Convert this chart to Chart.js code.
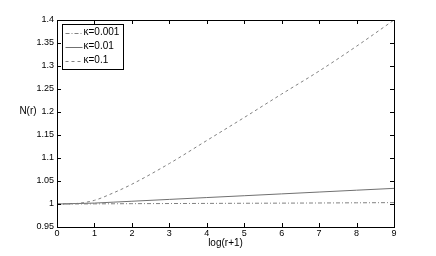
<!DOCTYPE html>
<html><head><meta charset="utf-8">
<script src="https://cdn.jsdelivr.net/npm/chart.js@4"></script>
<style>html,body{margin:0;padding:0;background:#fff}#c{display:block}</style>
</head><body>
<canvas id="c" width="436" height="256"></canvas>
<script>
const xValues = [0, 0.5, 1, 1.5, 2, 3, 4, 5, 6, 7, 8, 9];
const k0001 = [1.0, 1.0001, 1.0003, 1.0005, 1.0007, 1.001, 1.0013, 1.0016, 1.0019, 1.0022, 1.0026, 1.003];
const k001 = [1.0, 1.001, 1.002, 1.004, 1.006, 1.010, 1.014, 1.018, 1.022, 1.026, 1.030, 1.034];
const k01 = [1.0, 1.001, 1.008, 1.024, 1.043, 1.088, 1.138, 1.188, 1.239, 1.289, 1.343, 1.40];
const labels = ['κ=0.001', 'κ=0.01', 'κ=0.1'];
const xTicks = [0,1,2,3,4,5,6,7,8,9];
const yTicks = [0.95,1,1.05,1.1,1.15,1.2,1.25,1.3,1.35,1.4];
const xTitle = 'log(r+1)';
const yTitle = 'N(r)';

const FONT = '"Liberation Sans", Arial, sans-serif';
const pts = a => a.map((v,i)=>({x:xValues[i], y:v}));

const frame = {
  id:'frame',
  afterDraw(chart){
    const {ctx, chartArea:a, scales:{x,y}} = chart;
    ctx.save();
    ctx.strokeStyle='#000'; ctx.lineWidth=1;
    ctx.strokeRect(Math.round(a.left)+0.5, Math.round(a.top)+0.5, Math.round(a.right-a.left), Math.round(a.bottom-a.top));
    ctx.beginPath();
    const tl=4;
    xTicks.forEach(v=>{const px=Math.round(x.getPixelForValue(v))+0.5;
      ctx.moveTo(px,a.bottom); ctx.lineTo(px,a.bottom-tl);
      ctx.moveTo(px,a.top); ctx.lineTo(px,a.top+tl);});
    yTicks.forEach(v=>{const py=Math.round(y.getPixelForValue(v))+0.5;
      ctx.moveTo(a.left,py); ctx.lineTo(a.left+tl,py);
      ctx.moveTo(a.right,py); ctx.lineTo(a.right-tl,py);});
    ctx.stroke();
    // titles
    ctx.fillStyle='#000'; ctx.font='10px '+FONT;
    ctx.textAlign='center'; ctx.textBaseline='middle';
    ctx.fillText(xTitle, (a.left+a.right)/2, 243);
    ctx.fillText(yTitle, 28, 111);
    // legend
    const bx=Math.round(a.left)+5.5, by=Math.round(a.top)+4.5, bw=61, bh=45;
    ctx.fillStyle='#fff'; ctx.fillRect(bx,by,bw,bh);
    ctx.strokeStyle='#000'; ctx.setLineDash([]); ctx.strokeRect(bx,by,bw,bh);
    chart.data.datasets.forEach((ds,i)=>{
      const ly = by + 8 + i*14;
      ctx.strokeStyle=ds.borderColor; ctx.lineWidth=1;
      ctx.setLineDash(ds.borderDash||[]);
      ctx.beginPath(); ctx.moveTo(bx+3, Math.round(ly)+0.5); ctx.lineTo(bx+20, Math.round(ly)+0.5); ctx.stroke();
      ctx.setLineDash([]);
      ctx.fillStyle='#000'; ctx.textAlign='left'; ctx.font='10px '+FONT;
      ctx.fillText(ds.label, bx+21, ly);
    });
    ctx.restore();
  }
};

new Chart(document.getElementById('c'), {
  type:'line',
  data:{datasets:[
    {label:labels[0], data:pts(k0001), borderColor:'#808080', borderWidth:1, borderDash:[4,2,1,2], pointRadius:0, cubicInterpolationMode:'monotone', fill:false},
    {label:labels[1], data:pts(k001), borderColor:'#707070', borderWidth:1, pointRadius:0, cubicInterpolationMode:'monotone', fill:false},
    {label:labels[2], data:pts(k01), borderColor:'#808080', borderWidth:1, borderDash:[3,3], pointRadius:0, cubicInterpolationMode:'monotone', fill:false}
  ]},
  options:{
    responsive:false, animation:false,
    layout:{padding:{left:0, right:42, top:20, bottom:0}},
    plugins:{legend:{display:false}, tooltip:{enabled:false}},
    scales:{
      x:{type:'linear', min:0, max:9,
        afterBuildTicks(s){s.ticks=xTicks.map(v=>({value:v}));},
        afterFit(s){s.height=29;},
        grid:{display:false, drawTicks:false}, border:{display:false},
        ticks:{color:'#000', font:{size:9, family:FONT}, padding:1, maxRotation:0}},
      y:{type:'linear', min:0.95, max:1.4,
        afterBuildTicks(s){s.ticks=yTicks.map(v=>({value:v}));},
        afterFit(s){s.width=57;},
        grid:{display:false, drawTicks:false}, border:{display:false},
        ticks:{color:'#000', font:{size:9, family:FONT}, padding:3,
          callback:v=>String(+v.toFixed(2))}}
    }
  },
  plugins:[frame]
});
</script>
</body></html>
